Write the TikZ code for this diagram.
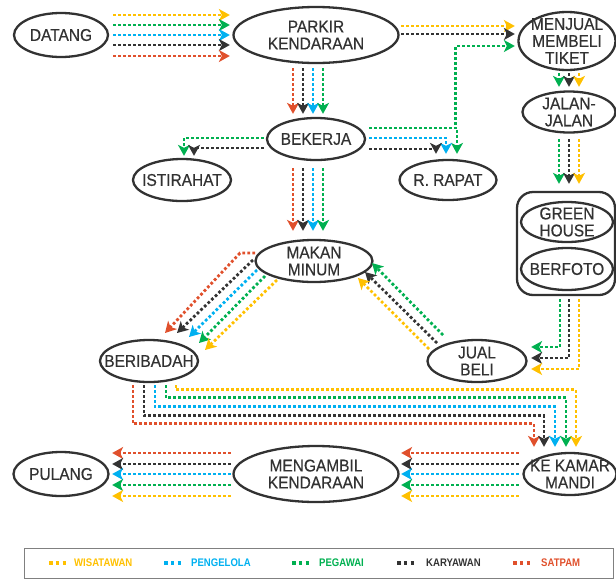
\documentclass[tikz,border=0pt]{standalone}
\usepackage{fontspec}
\setmainfont{Liberation Sans}
\usetikzlibrary{shapes.geometric,arrows.meta,calc}

\definecolor{cwis}{RGB}{255,192,0}
\definecolor{cpen}{RGB}{0,176,240}
\definecolor{cpeg}{RGB}{0,176,80}
\definecolor{ckar}{RGB}{51,51,51}
\definecolor{csat}{RGB}{224,80,44}
\definecolor{cedge}{RGB}{50,50,50}
\definecolor{cink}{RGB}{50,50,50}

\begin{document}
\begin{tikzpicture}[
        x=1pt, y=1pt,
        oval/.style={ellipse, draw=cedge, line width=2.3pt, align=center, text=cink,
                     font=\fontsize{17}{17}\selectfont\addfontfeatures{FakeStretch=0.91,FakeBold=0.5},
                     inner xsep=-45pt, inner ysep=-25pt},
        lane/.style={line width=2.8pt, dash pattern=on 2.7pt off 2.3pt,
                     -{Stealth[length=11pt,width=12pt,inset=3pt]}},
        key/.style={font=\bfseries\fontsize{11}{11}\selectfont\addfontfeatures{FakeStretch=0.87},
                    anchor=west, inner sep=0pt}]

    \useasboundingbox (0,0) rectangle (616,-579);

    \node[oval, minimum width=94pt,  minimum height=44pt] (datang)    at (61,-35)    {DATANG};
    \node[oval, minimum width=165pt, minimum height=56pt] (parkir)    at (316,-35)   {PARKIR\\KENDARAAN};
    \node[oval, minimum width=97pt,  minimum height=58pt] (tiket)     at (567,-41)   {MENJUAL\\MEMBELI\\TIKET};
    \node[oval, minimum width=93pt,  minimum height=41pt] (jalan)     at (569,-112)  {JALAN-\\JALAN};
    \node[oval, minimum width=98pt,  minimum height=42pt] (bekerja)   at (316,-139)  {BEKERJA};
    \node[oval, minimum width=98pt,  minimum height=42pt] (istirahat) at (182,-180)  {ISTIRAHAT};
    \node[oval, minimum width=97pt,  minimum height=40pt] (rapat)     at (448,-180)  {R. RAPAT};
    \node[draw=cedge, line width=2.3pt, rounded corners=16pt,
          minimum width=98pt, minimum height=103pt]       (spot)      at (566,-243.5) {};
    \node[oval, minimum width=92pt,  minimum height=40pt] (green)     at (567,-222)  {GREEN\\HOUSE};
    \node[oval, minimum width=92pt,  minimum height=42pt] (berfoto)   at (567,-269)  {BERFOTO};
    \node[oval, minimum width=117pt, minimum height=42pt] (makan)     at (314,-261)  {MAKAN\\MINUM};
    \node[oval, minimum width=98pt,  minimum height=42pt] (beribadah) at (149,-361)  {BERIBADAH};
    \node[oval, minimum width=99pt,  minimum height=42pt] (jual)      at (477,-361)  {JUAL\\BELI};
    \node[oval, minimum width=93pt,  minimum height=42pt] (kamar)     at (570,-474)  {KE KAMAR\\MANDI};
    \node[oval, minimum width=165pt, minimum height=56pt] (mengambil) at (316,-474)  {MENGAMBIL\\KENDARAAN};
    \node[oval, minimum width=95pt,  minimum height=44pt] (pulang)    at (61,-474)   {PULANG};

    % --- masuk
    \foreach \col/\dy in {cwis/20, cpeg/10, cpen/0, ckar/-10, csat/-21}
        \draw[lane, color=\col] ($(datang.east)+(4,\dy)$) -- ($(parkir.west)+(-2.5,\dy)$);
    \draw[lane, color=cwis] ($(parkir.east)+(1.5,9)$) -- ($(tiket.west)+(-2.5,15)$);
    \draw[lane, color=ckar] ($(parkir.east)+(1.5,1)$) -- ($(tiket.west)+(-2.5,7)$);
    \foreach \col/\dx in {csat/-23, ckar/-13, cpen/-3, cpeg/7} {
        \draw[lane, color=\col] ($(parkir.south)+(\dx,-4)$) -- ($(bekerja.north)+(\dx,3)$);
        \draw[lane, color=\col] ($(bekerja.south)+(\dx,-7)$) -- ($(makan.north)+(\dx+2,8)$);
    }

    % --- dari bekerja
    \draw[lane, color=cpeg] ($(bekerja.east)+(3,11)$) -| ($(tiket.west)+(-61.5,-5)$) -- ($(tiket.west)+(-2.5,-5)$);
    \foreach \col/\dy/\dx in {cpeg/11/9, cpen/1/-2, ckar/-10/-12}
        \draw[lane, color=\col] ($(bekerja.east)+(3,\dy)$) -| ($(rapat.north)+(\dx,5)$);
    \foreach \col/\dy/\dx in {cpeg/1/2, ckar/-9/12}
        \draw[lane, color=\col] ($(bekerja.west)+(-2,\dy)$) -| ($(istirahat.north)+(\dx,2)$);

    % --- wisata
    \foreach \col/\dx in {cpeg/-10, ckar/0, cwis/10} {
        \draw[lane, color=\col] ($(tiket.south)+(\dx+2,-2)$) -- ($(jalan.north)+(\dx,3.5)$);
        \draw[lane, color=\col] ($(jalan.south)+(\dx,-5.5)$) -- ($(spot.north)+(\dx+3,7)$);
    }
    \foreach \col/\dx/\dy in {cpeg/-6/14, ckar/3/3, cwis/13/-8}
        \draw[lane, color=\col] ($(spot.south)+(\dx,-3)$) |- ($(jual.east)+(3.5,\dy)$);
    \foreach \col/\ax/\ay/\bx/\by in {cpeg/-34/26/58/-2, ckar/-40/18/51/-11, cwis/-48/12/44/-17}
        \draw[lane, color=\col] ($(jual.center)+(\ax,\ay)$) -- ($(makan.center)+(\bx,\by)$);

    % --- makan ke beribadah
    \draw[lane, color=csat] ($(makan.center)+(-59,8)$) -- ($(makan.center)+(-74,8)$) -- ($(beribadah.center)+(16,28)$);
    \foreach \col/\ax/\ay/\bx/\by in {ckar/-61/1/28/28, cpen/-57/-9/40/24, cpeg/-49/-15/50/18, cwis/-37/-19/56/11}
        \draw[lane, color=\col] ($(makan.center)+(\ax,\ay)$) -- ($(beribadah.center)+(\bx,\by)$);

    % --- pulang
    \foreach \col/\sx/\kx/\ky in {csat/-16/-36/28, ckar/-5/-26/36, cpen/6/-15/45, cpeg/17/-4/54, cwis/27/6/62}
        \draw[lane, color=\col] ($(beribadah.south)+(\sx,-2)$) |- ($(kamar.north)+(\kx,\ky)$) -- ($(kamar.north)+(\kx,5)$);
    \foreach \col/\dy in {csat/21, ckar/10, cpen/0, cpeg/-11, cwis/-22} {
        \draw[lane, color=\col] ($(kamar.west)+(-3.5,\dy)$) -- ($(mengambil.east)+(1.5,\dy)$);
        \draw[lane, color=\col] ($(mengambil.west)+(-1.5,\dy)$) -- ($(pulang.east)+(2.5,\dy)$);
    }

    % --- keterangan
    \node[draw=gray, line width=1.2pt, minimum width=589pt, minimum height=30pt,
          anchor=north west] (legend) at (24,-548) {};
    \foreach \x/\tx/\col/\txt in {49/74/cwis/WISATAWAN, 164/191/cpen/PENGELOLA, 292/319/cpeg/PEGAWAI,
                                 397/426/ckar/KARYAWAN, 513/541/csat/SATPAM} {
        \draw[color=\col, line width=3.6pt, dash pattern=on 3.6pt off 3.2pt] (\x,-563) -- ++(18,0);
        \node[key, text=\col] (k\x) at (\tx,-563) {\txt};
    }

\end{tikzpicture}
\end{document}
